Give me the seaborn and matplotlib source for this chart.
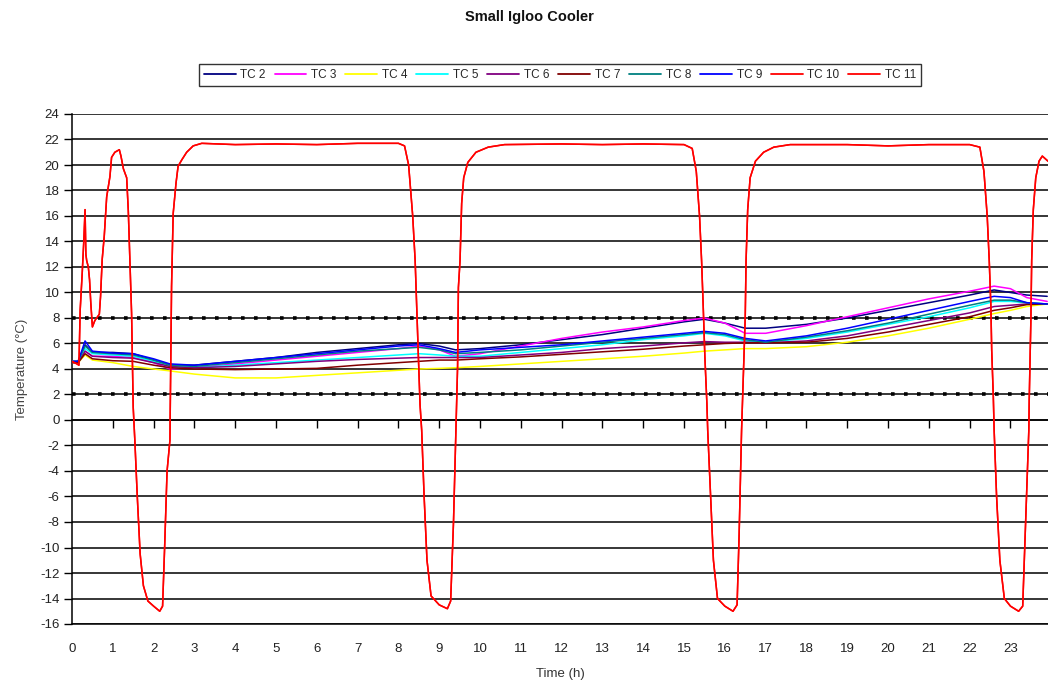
import numpy as np
import pandas as pd
import matplotlib
matplotlib.use("Agg")
import matplotlib.pyplot as plt
import seaborn as sns
from matplotlib.lines import Line2D

# ---------------- data ----------------
series_names = ["TC 2", "TC 3", "TC 4", "TC 5", "TC 6", "TC 7", "TC 8", "TC 9", "TC 10", "TC 11"]
series_colors = ["#000080", "#FF00FF", "#FFFF00", "#00FFFF", "#800080",
                 "#800000", "#008080", "#0000FF", "#FF0000", "#FF0000"]

# time (h) for the cooler-interior thermocouples
t_inside = [0, 0.15, 0.32, 0.5, 1.0, 1.5, 2.0, 2.4, 3.0, 4.0, 5.0, 6.0, 7.0, 8.0, 8.5, 9.0,
            9.4, 10.0, 11, 12, 13, 14, 15, 15.5, 16.0, 16.5, 17.0, 18, 19, 20, 21, 22,
            22.6, 23.0, 23.4, 23.9]

tc2 = [4.6, 4.6, 5.9, 5.3, 5.3, 5.2, 4.7, 4.3, 4.3, 4.6, 4.9, 5.3, 5.6, 5.9, 6.0, 5.8,
       5.5, 5.6, 5.9, 6.3, 6.7, 7.2, 7.7, 7.9, 7.6, 7.2, 7.2, 7.5, 8.0, 8.6, 9.2, 9.8,
       10.2, 10.0, 9.8, 9.7]
tc3 = [4.6, 4.6, 5.4, 5.0, 5.0, 4.9, 4.5, 4.0, 4.1, 4.4, 4.7, 5.0, 5.3, 5.6, 5.8, 5.5,
       5.0, 5.2, 5.8, 6.4, 6.9, 7.3, 7.8, 8.0, 7.6, 6.8, 6.8, 7.4, 8.1, 8.8, 9.5, 10.1,
       10.5, 10.3, 9.6, 9.3]
tc4 = [4.5, 4.5, 5.1, 4.7, 4.5, 4.2, 4.0, 3.85, 3.6, 3.3, 3.3, 3.5, 3.7, 3.9, 4.0, 4.05,
       4.1, 4.2, 4.4, 4.6, 4.8, 5.0, 5.25, 5.4, 5.5, 5.6, 5.6, 5.75, 6.1, 6.6, 7.2, 7.9,
       8.35, 8.6, 8.9, 9.1]
tc5 = [4.6, 4.6, 5.6, 5.2, 5.1, 5.0, 4.6, 4.2, 4.1, 4.3, 4.5, 4.7, 4.9, 5.1, 5.2, 5.1,
       5.0, 5.0, 5.3, 5.6, 5.9, 6.3, 6.6, 6.8, 6.6, 6.2, 6.1, 6.4, 6.9, 7.5, 8.1, 8.8,
       9.3, 9.3, 9.2, 9.1]
tc6 = [4.5, 4.5, 5.4, 5.0, 4.9, 4.85, 4.5, 4.2, 4.1, 4.2, 4.4, 4.6, 4.75, 4.85, 4.9, 4.9,
       4.9, 4.9, 5.1, 5.3, 5.6, 5.8, 6.05, 6.15, 6.1, 6.1, 6.05, 6.2, 6.6, 7.2, 7.8, 8.4,
       8.9, 9.0, 9.1, 9.1]
tc7 = [4.5, 4.5, 5.2, 4.8, 4.65, 4.6, 4.3, 4.1, 4.0, 3.95, 4.0, 4.05, 4.3, 4.5, 4.6, 4.7,
       4.7, 4.8, 4.95, 5.15, 5.35, 5.55, 5.8, 5.9, 6.0, 6.05, 6.05, 6.1, 6.4, 6.9, 7.5, 8.1,
       8.6, 8.8, 9.05, 9.1]
tc8 = [4.6, 4.6, 5.8, 5.3, 5.2, 5.1, 4.7, 4.3, 4.2, 4.5, 4.8, 5.1, 5.4, 5.6, 5.7, 5.5,
       5.2, 5.3, 5.5, 5.8, 6.1, 6.4, 6.7, 6.85, 6.7, 6.3, 6.1, 6.5, 7.0, 7.6, 8.3, 9.0,
       9.4, 9.4, 9.2, 9.1]
tc9 = [4.6, 4.6, 6.2, 5.4, 5.25, 5.2, 4.8, 4.4, 4.3, 4.6, 4.9, 5.2, 5.5, 5.8, 5.9, 5.6,
       5.3, 5.5, 5.7, 5.9, 6.2, 6.5, 6.8, 6.95, 6.8, 6.4, 6.2, 6.6, 7.2, 7.9, 8.6, 9.3,
       9.7, 9.6, 9.2, 9.1]

# time (h) and temperature for the cycling (chamber) thermocouple
t_chamber = [0, 0.12, 0.17, 0.2, 0.25, 0.29, 0.32, 0.34, 0.36, 0.4, 0.43, 0.46, 0.5, 0.56,
             0.67, 0.7, 0.74, 0.79, 0.85, 0.93, 0.97, 1.05, 1.16, 1.2, 1.26, 1.34, 1.38,
             1.42, 1.46, 1.5, 1.54, 1.6, 1.67, 1.75, 1.86, 2.0, 2.15, 2.22, 2.27, 2.33,
             2.4, 2.44, 2.48, 2.55, 2.6, 2.69, 2.81, 2.97, 3.18, 4.0, 5.0, 6.0, 7.0, 8.0,
             8.15, 8.25, 8.35, 8.41, 8.45, 8.49, 8.53, 8.57, 8.63, 8.7, 8.8, 9.0, 9.2,
             9.28, 9.35, 9.41, 9.45, 9.47, 9.51, 9.55, 9.6, 9.7, 9.9, 10.2, 10.6, 12, 13,
             14, 15.0, 15.2, 15.3, 15.38, 15.43, 15.47, 15.51, 15.56, 15.58, 15.65, 15.72,
             15.82, 16.0, 16.2, 16.3, 16.35, 16.41, 16.45, 16.5, 16.52, 16.56, 16.62,
             16.75, 16.95, 17.2, 17.6, 19, 20, 21, 22.0, 22.25, 22.35, 22.43, 22.48,
             22.52, 22.54, 22.58, 22.6, 22.66, 22.74, 22.85, 23.0, 23.2, 23.3, 23.36,
             23.45, 23.46, 23.5, 23.52, 23.56, 23.62, 23.7, 23.78, 23.85, 23.92]
tc10 = [4.6, 4.4, 4.3, 8.6, 11.5, 14.1, 16.5, 13.0, 12.5, 12.0, 11.0, 9.2, 7.3, 7.8,
        8.3, 9.7, 12.6, 14.4, 17.5, 19.1, 20.6, 21.0, 21.2, 20.7, 19.7, 19.0, 16.4,
        12.4, 8.4, 1.0, -1.6, -6.0, -10.5, -13.0, -14.2, -14.6, -15.0, -14.6, -10.0, -4.0,
        -1.6, 10.5, 16.2, 18.6, 19.9, 20.4, 21.0, 21.5, 21.7, 21.6, 21.65, 21.6, 21.7, 21.7,
        21.5, 20.0, 16.0, 12.5, 8.6, 4.9, 1.2, -0.8, -6.0, -11.0, -13.8, -14.5, -14.8,
        -14.2, -8.0, -0.8, 4.2, 10.4, 12.5, 17.0, 19.0, 20.2, 21.0, 21.4, 21.6, 21.65, 21.6,
        21.65, 21.6, 21.3, 19.5, 16.0, 12.5, 8.9, 5.0, 1.3, -0.8, -6.0, -11.0,
        -14.0, -14.6, -15.0, -14.5, -9.0, -0.8, 3.1, 8.1, 12.5, 16.5, 19.0,
        20.3, 21.0, 21.4, 21.6, 21.6, 21.5, 21.6, 21.6, 21.4, 19.5, 16.0, 12.5,
        8.9, 5.5, 1.8, -0.8, -6.0, -11.0, -14.0, -14.6, -15.0, -14.6, -9.0,
        -0.8, 1.6, 7.8, 12.5, 16.5, 19.0, 20.3, 20.7, 20.5, 20.3]
tc11 = tc10  # TC 11 is drawn in the same red and cannot be told apart from TC 10

x_ticks = list(range(0, 24))
y_ticks = list(range(-16, 25, 2))
limit_lines = [2, 8]

# ---------------- build long-form table ----------------
inside = {"TC 2": tc2, "TC 3": tc3, "TC 4": tc4, "TC 5": tc5, "TC 6": tc6,
          "TC 7": tc7, "TC 8": tc8, "TC 9": tc9}
frames = [pd.DataFrame({"time": t_inside, "temp": v, "sensor": k}) for k, v in inside.items()]
frames.append(pd.DataFrame({"time": t_chamber, "temp": tc10, "sensor": "TC 10"}))
frames.append(pd.DataFrame({"time": t_chamber, "temp": tc11, "sensor": "TC 11"}))
df = pd.concat(frames, ignore_index=True)

# ---------------- style ----------------
sns.set_theme(style="white")
plt.rcParams["font.family"] = ["Liberation Sans", "DejaVu Sans"]
plt.rcParams["axes.unicode_minus"] = False

fig = plt.figure(figsize=(10.48, 6.86), dpi=100)
ax = fig.add_axes([72 / 1048, 1 - 624 / 686, 1 - 72 / 1048, (624 - 114) / 686])
ax.set_facecolor("white")

palette = dict(zip(series_names, series_colors))
sns.lineplot(data=df, x="time", y="temp", hue="sensor", hue_order=series_names,
             palette=palette, estimator=None, sort=False, linewidth=1.1,
             legend=False, ax=ax, zorder=3)

# gridlines and limit lines
for yv in y_ticks:
    ax.axhline(yv, color="black", linewidth=1.1, zorder=1)
for yv in limit_lines:
    ax.axhline(yv, color="black", linewidth=2.6, linestyle=(0, (1, 2.6)), zorder=2)

ax.set_xlim(0, 23.92)
ax.set_ylim(-16, 24)
ax.set_yticks(y_ticks)
ax.set_yticklabels([str(v) for v in y_ticks], fontsize=9.5, color="#222222")
ax.set_xticks(x_ticks)
ax.set_xticklabels([str(v) for v in x_ticks], fontsize=9.5, color="#222222")
ax.tick_params(axis="y", direction="out", length=6, width=1, color="black", pad=3, left=True)
ax.tick_params(axis="x", length=0, pad=14, bottom=True)

for side in ["top", "right"]:
    ax.spines[side].set_visible(False)
for side in ["left", "bottom"]:
    ax.spines[side].set_color("black")
    ax.spines[side].set_linewidth(1.1)

# category axis crossing at 0 with downward tick marks
sec = ax.secondary_xaxis(16 / 40)
sec.set_xticks(x_ticks[1:])
sec.set_xticklabels([])
sec.tick_params(axis="x", direction="out", length=6, width=1, color="black")
sec.spines["bottom"].set_color("black")
sec.spines["bottom"].set_linewidth(1.1)

ax.set_xlabel("Time (h)", fontsize=9.5, color="#333333", labelpad=9)
ax.set_ylabel("Temperature (°C)", fontsize=9.5, color="#444444", labelpad=9)

fig.text(529 / 1048, 1 - 17 / 686, "Small Igloo Cooler", ha="center", va="center",
         fontsize=10.5, fontweight="bold", color="#111111")

handles = [Line2D([0], [0], color=c, linewidth=1.3) for c in series_colors]
leg = fig.legend(handles, series_names, loc="center", bbox_to_anchor=(560 / 1048, 1 - 75 / 686),
                 ncol=10, fontsize=8.5, frameon=True, fancybox=False, handlelength=2.7,
                 handletextpad=0.4, columnspacing=0.75, borderpad=0.4, edgecolor="black")
leg.get_frame().set_linewidth(1.0)

fig.savefig("out.png", dpi=100, facecolor="white")
